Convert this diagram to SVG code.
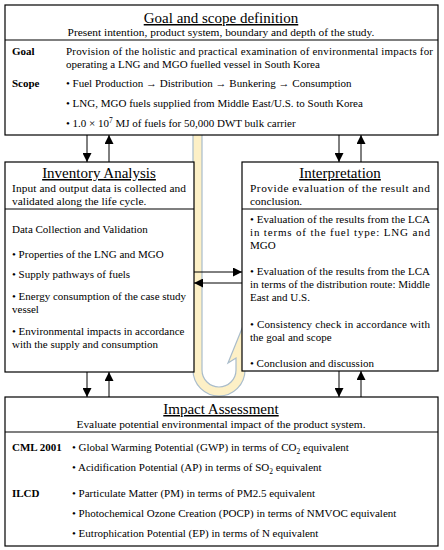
<svg xmlns="http://www.w3.org/2000/svg" width="444" height="550" viewBox="0 0 444 550">
<style>
text{font-family:"Liberation Serif","Times New Roman",serif;fill:#000;}
.t{font-size:15px;text-decoration:underline;text-anchor:middle;}
.s{font-size:11px;}
.h{font-size:11.4px;}
.c{text-anchor:middle;}
.b{font-weight:bold;}
.box{fill:#fff;stroke:#000;stroke-width:1.2;}
.div{stroke:#000;stroke-width:1.2;}
.ln{stroke:#000;stroke-width:1;fill:none;}
</style>
<defs>
<marker id="ah" viewBox="0 0 10 10" refX="10" refY="5" markerWidth="10" markerHeight="9" markerUnits="userSpaceOnUse" orient="auto"><path d="M0,0 L10,5 L0,10 Z" fill="#000"/></marker>
</defs>
<g id="cycle-arrow">
<path d="M193,128 V370 A26,26 0 0 0 245,370 V330 L243,326 L228,363 L236,358 V370 A17,17 0 0 1 202,370 V128 Z" fill="#fdf0c6" stroke="#a9bccb" stroke-width="1.2"/>
</g>
<g id="goal">
<rect class="box" x="5" y="5" width="433" height="130"/>
<line class="div" x1="5" y1="40" x2="438" y2="40"/>
<text class="t" x="221" y="23">Goal and scope definition</text>
<text class="h c" x="221" y="36">Present intention, product system, boundary and depth of the study.</text>
<text class="s b" x="12" y="55">Goal</text>
<text class="s" x="66" y="55" textLength="367" lengthAdjust="spacing">Provision of the holistic and practical examination of environmental impacts for</text>
<text class="s" x="66" y="68">operating a LNG and MGO fuelled vessel in South Korea</text>
<text class="s b" x="12" y="87">Scope</text>
<text class="s" x="66" y="87">• Fuel Production → Distribution → Bunkering → Consumption</text>
<text class="s" x="66" y="107">• LNG, MGO fuels supplied from Middle East/U.S. to South Korea</text>
<text class="s" x="66" y="127">• 1.0 × 10<tspan font-size="7.5" dy="-4.5">7</tspan><tspan dy="4.5"> MJ of fuels for 50,000 DWT bulk carrier</tspan></text>
</g>
<g id="inventory">
<rect class="box" x="5" y="162" width="189" height="210"/>
<line class="div" x1="5" y1="209" x2="194" y2="209"/>
<text class="t" x="99" y="178">Inventory Analysis</text>
<text class="h" x="12" y="192" textLength="174" lengthAdjust="spacing">Input and output data is collected and</text>
<text class="h" x="12" y="205">validated along the life cycle.</text>
<text class="s" x="12" y="233">Data Collection and Validation</text>
<text class="s" x="12" y="258">• Properties of the LNG and MGO</text>
<text class="s" x="12" y="278">• Supply pathways of fuels</text>
<text class="s" x="12" y="300">• Energy consumption of the case study</text>
<text class="s" x="12" y="313">vessel</text>
<text class="s" x="12" y="335">• Environmental impacts in accordance</text>
<text class="s" x="12" y="348">with the supply and consumption</text>
</g>
<g id="interpretation">
<rect class="box" x="242" y="162" width="196" height="209"/>
<line class="div" x1="242" y1="209" x2="438" y2="209"/>
<text class="t" x="340" y="178">Interpretation</text>
<text class="h" x="250" y="192" textLength="180" lengthAdjust="spacing">Provide evaluation of the result and</text>
<text class="h" x="250" y="205">conclusion.</text>
<text class="s" x="250" y="223" textLength="180" lengthAdjust="spacing">• Evaluation of the results from the LCA</text>
<text class="s" x="250" y="236" textLength="180" lengthAdjust="spacing">in terms of the fuel type: LNG and</text>
<text class="s" x="250" y="249">MGO</text>
<text class="s" x="250" y="275" textLength="180" lengthAdjust="spacing">• Evaluation of the results from the LCA</text>
<text class="s" x="250" y="288" textLength="180" lengthAdjust="spacing">in terms of the distribution route: Middle</text>
<text class="s" x="250" y="301">East and U.S.</text>
<text class="s" x="250" y="328" textLength="180" lengthAdjust="spacing">• Consistency check in accordance with</text>
<text class="s" x="250" y="341">the goal and scope</text>
<text class="s" x="250" y="367">• Conclusion and discussion</text>
</g>
<g id="impact">
<rect class="box" x="5" y="397" width="433" height="149"/>
<line class="div" x1="5" y1="432" x2="438" y2="432"/>
<text class="t" x="221" y="414">Impact Assessment</text>
<text class="h c" x="221" y="428">Evaluate potential environmental impact of the product system.</text>
<text class="s b" x="12" y="451">CML 2001</text>
<text class="s" x="72" y="451">• Global Warming Potential (GWP) in terms of CO<tspan font-size="7.5" dy="3">2</tspan><tspan dy="-3"> equivalent</tspan></text>
<text class="s" x="72" y="471">• Acidification Potential (AP) in terms of SO<tspan font-size="7.5" dy="3">2</tspan><tspan dy="-3"> equivalent</tspan></text>
<text class="s b" x="12" y="497">ILCD</text>
<text class="s" x="72" y="497">• Particulate Matter (PM) in terms of PM2.5 equivalent</text>
<text class="s" x="72" y="517">• Photochemical Ozone Creation (POCP) in terms of NMVOC equivalent</text>
<text class="s" x="72" y="537">• Eutrophication Potential (EP) in terms of N equivalent</text>
</g>
<g id="connectors">
<line class="ln" x1="87" y1="135" x2="87" y2="162" marker-end="url(#ah)"/>
<line class="ln" x1="109" y1="162" x2="109" y2="135" marker-end="url(#ah)"/>
<line class="ln" x1="339" y1="135" x2="339" y2="162" marker-end="url(#ah)"/>
<line class="ln" x1="361" y1="162" x2="361" y2="135" marker-end="url(#ah)"/>
<line class="ln" x1="87" y1="372" x2="87" y2="397" marker-end="url(#ah)"/>
<line class="ln" x1="109" y1="397" x2="109" y2="372" marker-end="url(#ah)"/>
<line class="ln" x1="339" y1="371" x2="339" y2="397" marker-end="url(#ah)"/>
<line class="ln" x1="361" y1="397" x2="361" y2="371" marker-end="url(#ah)"/>
<line class="ln" x1="194" y1="272" x2="242" y2="272" marker-end="url(#ah)"/>
<line class="ln" x1="242" y1="283" x2="194" y2="283" marker-end="url(#ah)"/>
</g>
</svg>
